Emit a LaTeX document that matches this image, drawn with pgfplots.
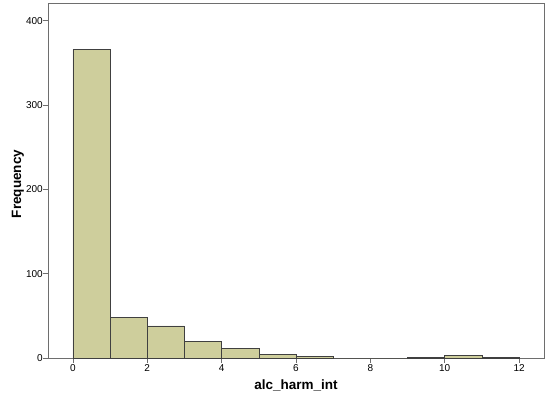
\documentclass[border=0pt]{standalone}
\usepackage{pgfplots}
\pgfplotsset{compat=1.18}
\usepackage{fontspec}
\setmainfont{Liberation Sans}
\definecolor{barfill}{RGB}{206,206,156}
\definecolor{framec}{RGB}{110,110,110}
\begin{document}
\begin{tikzpicture}[x=1pt,y=1pt]
\useasboundingbox (-48,-42) rectangle (507,358);
\begin{axis}[
  at={(0,0)}, anchor=south west,
  scale only axis, width=496pt, height=355pt,
  xmin=-0.67, xmax=12.67, ymin=0, ymax=421,
  xtick={0,2,...,12}, ytick={0,100,200,300,400},
  tick align=outside, major tick length=4.5pt,
  tick style={framec, line width=0.6pt},
  axis line style={framec, line width=0.8pt},
  xtick pos=bottom, ytick pos=left,
  /pgf/number format/assume math mode=true,
  ticklabel style={font=\fontsize{10}{12}\selectfont},
  yticklabel style={inner sep=0.5pt},
  xticklabel style={inner sep=2pt},
  xlabel={\textbf{alc\_harm\_int}},
  ylabel={\textbf{Frequency}},
  label style={font=\fontsize{13.5}{15}\selectfont},
  xlabel style={at={(axis description cs:0.5,0)}, anchor=north, yshift=-18pt},
  ylabel style={at={(axis description cs:-0.048,0.49)}, anchor=south, inner sep=0pt},
]
\addplot[ybar interval, fill=barfill, draw=black!75, line width=0.6pt]
coordinates {(0,366) (1,48) (2,38) (3,20) (4,11.5) (5,4) (6,2) (7,0) (8,0) (9,1) (10,3.5) (11,1) (12,1)};
\end{axis}
\end{tikzpicture}
\end{document}
